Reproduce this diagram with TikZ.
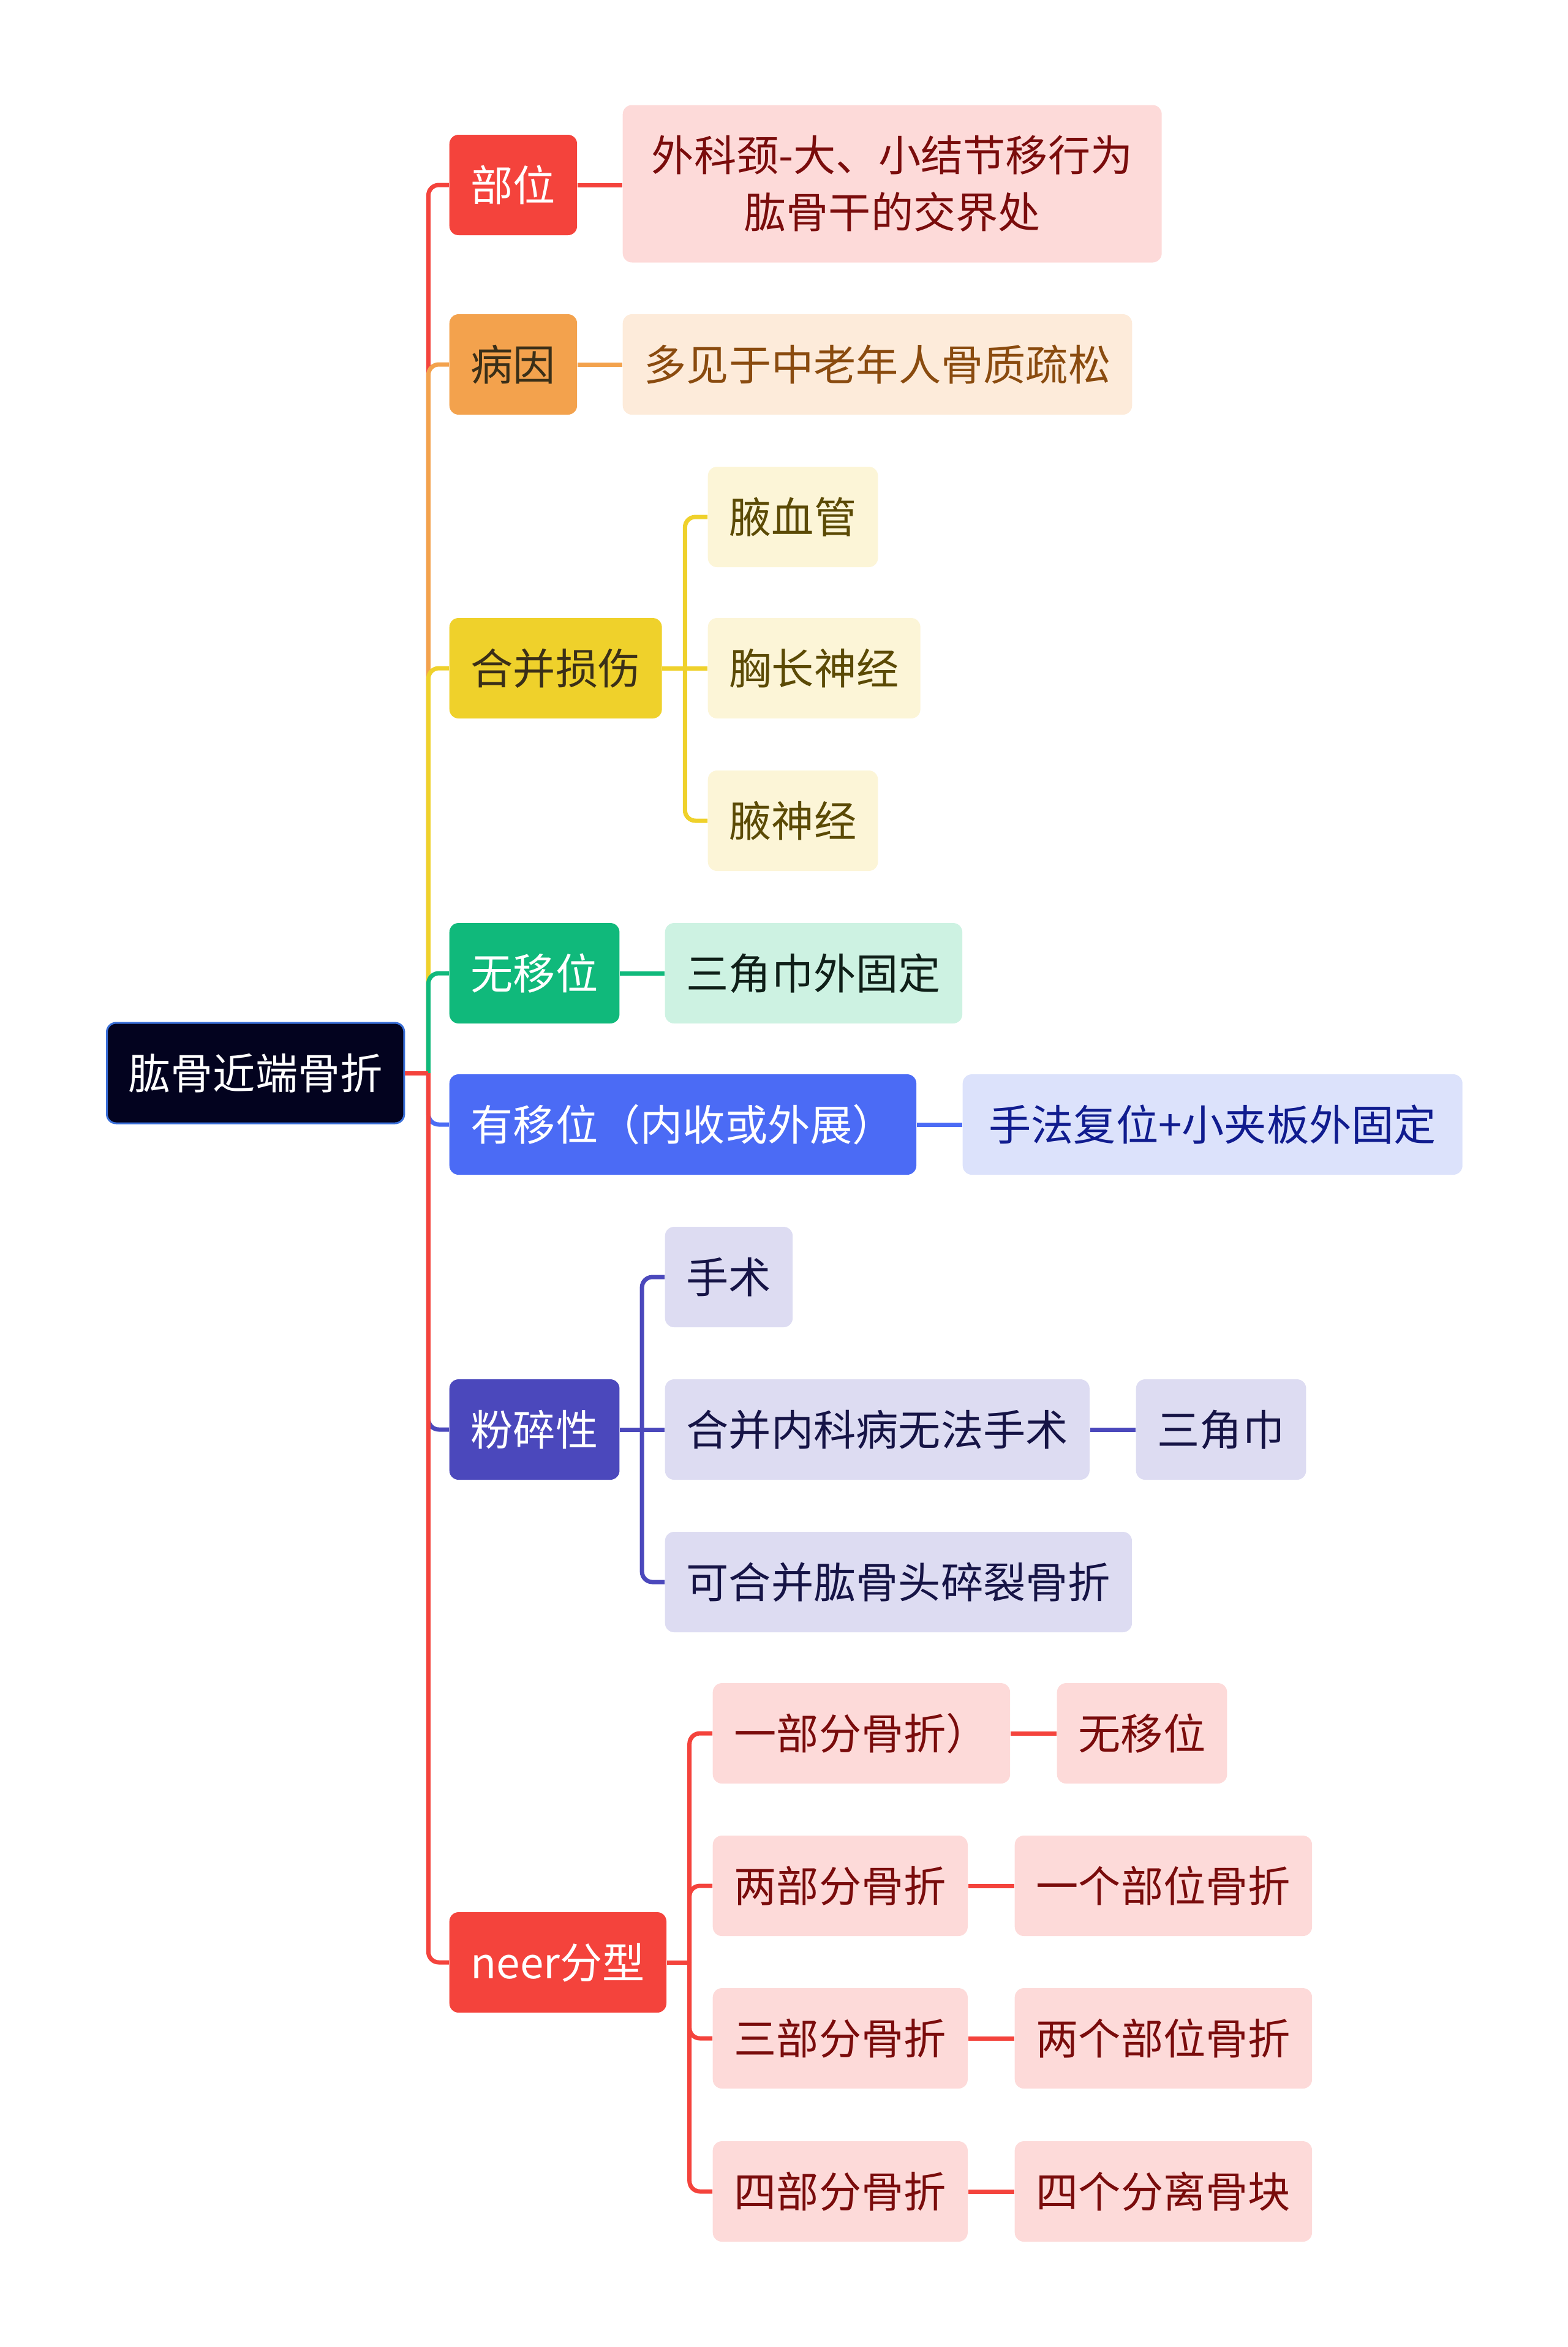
\documentclass[tikz,border=0pt]{standalone}
\usepackage{fontspec}
\setmainfont{Noto Sans CJK SC}
\usepackage{tikz}
\usetikzlibrary{calc}
\definecolor{rootbg}{HTML}{03031F}
\definecolor{rootline}{HTML}{3A6FD8}
\definecolor{cred}{HTML}{F4433C}
\definecolor{corange}{HTML}{F3A24D}
\definecolor{cyellow}{HTML}{EFD12B}
\definecolor{cgreen}{HTML}{10B97B}
\definecolor{cblue}{HTML}{4B6BF5}
\definecolor{cindigo}{HTML}{4B48BC}
\definecolor{lred}{HTML}{FDDAD9}
\definecolor{lorange}{HTML}{FDEBDA}
\definecolor{lyellow}{HTML}{FCF5D7}
\definecolor{lgreen}{HTML}{CDF2E2}
\definecolor{lblue}{HTML}{DCE2FB}
\definecolor{lindigo}{HTML}{DDDCF2}
\definecolor{tred}{HTML}{7A0C0C}
\definecolor{torange}{HTML}{8A4B0F}
\definecolor{tyellow}{HTML}{5B4A05}
\definecolor{tgreen}{HTML}{0F1F18}
\definecolor{tblue}{HTML}{101C8F}
\definecolor{tindigo}{HTML}{161446}
\definecolor{tdark}{HTML}{3A2F18}

\begin{document}
\begin{tikzpicture}[
  font=\fontsize{19.7}{26.4}\selectfont,
  box/.style={rounded corners=0.15cm,minimum height=1.64cm,inner xsep=0.35cm,
              anchor=west,align=center},
  main/.style={box,fill=#1},
  leaf/.style={box,fill=#1},
  link/.style={line width=0.07cm,rounded corners=0.17cm}]
\useasboundingbox (0,0) rectangle (25.6,-38.32);

\node[box,fill=rootbg,draw=rootline,line width=0.03cm,text=white] (root) at (1.73,-17.52) {肱骨近端骨折};

\node[main=cred,text=white]      (buwei)  at (7.33,-3.02)  {部位};
\node[main=corange,text=tdark]   (bingyin) at (7.33,-5.95) {病因};
\node[main=cyellow,text=tdark]   (hebing) at (7.33,-10.91) {合并损伤};
\node[main=cgreen,text=white]    (wuyi)   at (7.33,-15.89) {无移位};
\node[main=cblue,text=white]     (youyi)  at (7.33,-18.36) {有移位（内收或外展）};
\node[main=cindigo,text=white]   (fensui) at (7.33,-23.34) {粉碎性};
\node[main=cred,text=white]      (neer)   at (7.33,-32.04) {neer分型};

\node[leaf=lred,text=tred,minimum height=2.57cm,minimum width=8.8cm] (jiaojie) at (10.16,-3.00) {外科颈-大、小结节移行为\\肱骨干的交界处};
\node[leaf=lorange,text=torange] (gushu) at (10.16,-5.95) {多见于中老年人骨质疏松};

\node[leaf=lyellow,text=tyellow] (xueguan) at (11.55,-8.44)  {腋血管};
\node[leaf=lyellow,text=tyellow] (xiong)   at (11.55,-10.91) {胸长神经};
\node[leaf=lyellow,text=tyellow] (yeshen)  at (11.55,-13.40) {腋神经};

\node[leaf=lgreen,text=tgreen] (guding) at (10.85,-15.89) {三角巾外固定};
\node[leaf=lblue,text=tblue,minimum width=8.16cm] (fuwei) at (15.71,-18.36) {手法复位+小夹板外固定};

\node[leaf=lindigo,text=tindigo] (shoushu) at (10.85,-20.85) {手术};
\node[leaf=lindigo,text=tindigo] (neike)   at (10.85,-23.34) {合并内科病无法手术};
\node[leaf=lindigo,text=tindigo] (sanjiao) at (18.54,-23.34) {三角巾};
\node[leaf=lindigo,text=tindigo] (gutou)   at (10.85,-25.83) {可合并肱骨头碎裂骨折};

\node[leaf=lred,text=tred] (yibu)  at (11.63,-28.30) {一部分骨折）};
\node[leaf=lred,text=tred] (wuyi2) at (17.25,-28.30) {无移位};
\node[leaf=lred,text=tred] (liangbu) at (11.63,-30.79) {两部分骨折};
\node[leaf=lred,text=tred] (yige)  at (16.56,-30.79) {一个部位骨折};
\node[leaf=lred,text=tred] (sanbu) at (11.63,-33.28) {三部分骨折};
\node[leaf=lred,text=tred] (liangge) at (16.56,-33.28) {两个部位骨折};
\node[leaf=lred,text=tred] (sibu)  at (11.63,-35.78) {四部分骨折};
\node[leaf=lred,text=tred] (sige)  at (16.56,-35.78) {四个分离骨块};

\coordinate (trunk) at ($(root.east)+(0.38,0)$);
\draw[link,cred]    (trunk) |- (buwei.west);
\draw[link,corange] (trunk) |- (bingyin.west);
\draw[link,cyellow] (trunk) |- (hebing.west);
\draw[link,cgreen]  (trunk) |- (wuyi.west);
\draw[link,cblue]   (trunk) |- (youyi.west);
\draw[link,cindigo] (trunk) |- (fensui.west);
\draw[link,cred]    (trunk) |- (neer.west);
\draw[link,cred]    (root.east) -- (trunk);

\draw[link,cred]    (buwei) -- (jiaojie.west |- buwei);
\draw[link,corange] (bingyin) -- (gushu);
\draw[link,cgreen]  (wuyi) -- (guding);
\draw[link,cblue]   (youyi) -- (fuwei);

\coordinate (hbhub) at ($(hebing.east)+(0.37,0)$);
\draw[link,cyellow] (hebing.east) -- (xiong.west);
\draw[link,cyellow] (hbhub) |- (xueguan.west);
\draw[link,cyellow] (hbhub) |- (yeshen.west);

\coordinate (fshub) at ($(fensui.east)+(0.36,0)$);
\draw[link,cindigo] (fensui.east) -- (neike.west);
\draw[link,cindigo] (fshub) |- (shoushu.west);
\draw[link,cindigo] (fshub) |- (gutou.west);
\draw[link,cindigo] (neike) -- (sanjiao);

\coordinate (nrhub) at ($(neer.east)+(0.37,0)$);
\draw[link,cred] (neer.east) -- (nrhub);
\foreach \n in {yibu,liangbu,sanbu,sibu}
  \draw[link,cred] (nrhub) |- (\n.west);
\draw[link,cred] (yibu) -- (wuyi2);
\draw[link,cred] (liangbu) -- (yige);
\draw[link,cred] (sanbu) -- (liangge);
\draw[link,cred] (sibu) -- (sige);
\end{tikzpicture}
\end{document}
